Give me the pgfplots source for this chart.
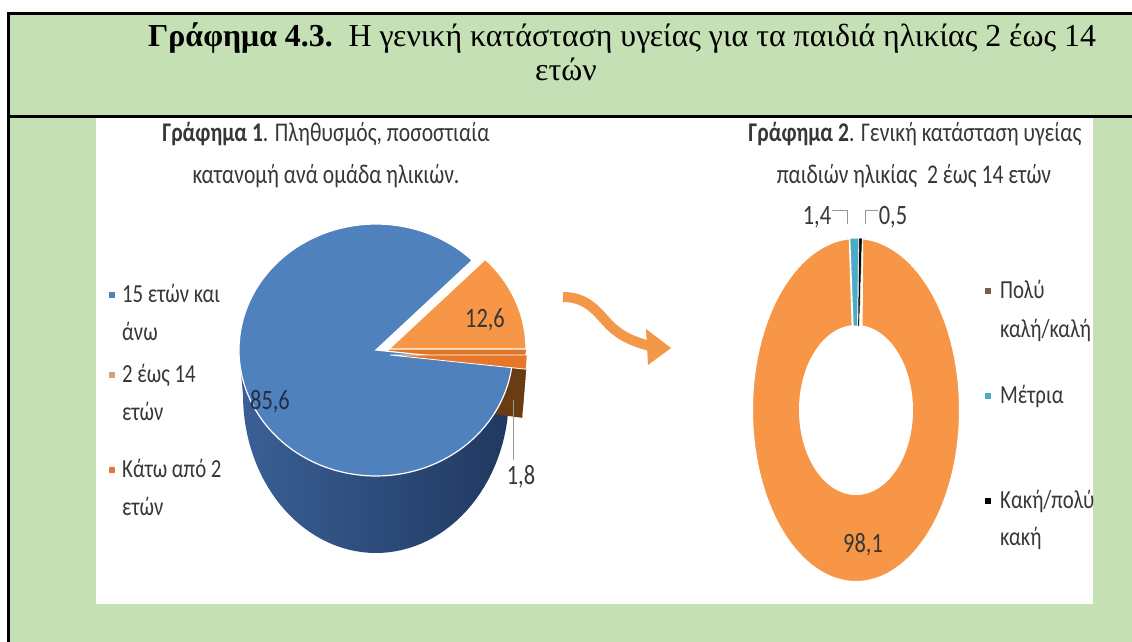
\documentclass[border=0pt]{standalone}
\usepackage{pgfplots}
\pgfplotsset{compat=1.18}
\usepackage{pgfplotstable}
\usepackage{fontspec}
\setmainfont{Liberation Serif}
\newfontfamily\titlefont[FakeStretch=0.995]{Liberation Serif}
\newfontfamily\chartfont[FakeStretch=0.8]{Carlito}

\definecolor{bggreen}{RGB}{197,224,180}
\definecolor{pieblue}{RGB}{79,129,189}
\definecolor{piebluesideA}{RGB}{58,96,150}
\definecolor{piebluesideB}{RGB}{32,56,96}
\definecolor{pieorange}{RGB}{247,150,70}
\definecolor{pieorangecut}{RGB}{222,118,40}
\definecolor{smalltop}{RGB}{232,118,40}
\definecolor{smallside}{RGB}{105,60,20}
\definecolor{dteal}{RGB}{75,172,198}
\definecolor{txt}{RGB}{55,55,55}
\definecolor{arrowor}{RGB}{242,152,72}
\definecolor{legtan}{RGB}{200,168,120}
\definecolor{legorange}{RGB}{226,120,45}
\definecolor{legbrown}{RGB}{120,92,76}
\definecolor{leader}{RGB}{150,150,150}

% data
\pgfplotstableread{
group value
older 85.6
kids 12.6
infants 1.8
}\popdata
\pgfplotstableread{
status value
good 98.1
fair 1.4
bad 0.5
}\healthdata

% 3D pie geometry (pixels): top ellipse, lower ellipse
\newcommand{\TRX}{137}\newcommand{\TRY}{126}
\newcommand{\BRX}{133}\newcommand{\BRY}{158}\newcommand{\BD}{45}

\newcommand{\topsector}[6]{%
\addplot[#1, domain=#2:#3, samples=#6, variable=\t]
 ({#4+\TRX*cos(\t)},{#5+\TRY*sin(\t)}) -- (axis cs:#4,#5) -- cycle;}

\newcommand{\sideband}[6]{%
\addplot[#1, domain=0:2, samples=#6, variable=\t]
 ({ifthenelse(\t<1.005, #4+\TRX*cos((#2)+((#3)-(#2))*\t), #4+\BRX*cos((#3)-((#3)-(#2))*(\t-1)))},
  {ifthenelse(\t<1.005, #5+\TRY*sin((#2)+((#3)-(#2))*\t), #5-\BD+\BRY*sin((#3)-((#3)-(#2))*(\t-1)))}) -- cycle;}

\newcommand{\ringsector}[4]{%
\addplot[#1, domain=0:2, samples=#4, variable=\t]
 ({ifthenelse(\t<1.005, 104*cos((#2)+((#3)-(#2))*\t), 56*cos((#3)-((#3)-(#2))*(\t-1)))},
  {ifthenelse(\t<1.005, 172*sin((#2)+((#3)-(#2))*\t), 84*sin((#3)-((#3)-(#2))*(\t-1)))}) -- cycle;}

\begin{document}
\begin{tikzpicture}
\pgfplotstablegetelem{0}{value}\of\popdata\let\pA\pgfplotsretval
\pgfplotstablegetelem{1}{value}\of\popdata\let\pB\pgfplotsretval
\pgfplotstablegetelem{2}{value}\of\popdata\let\pC\pgfplotsretval
\pgfplotstablegetelem{0}{value}\of\healthdata\let\hA\pgfplotsretval
\pgfplotstablegetelem{1}{value}\of\healthdata\let\hB\pgfplotsretval
\pgfplotstablegetelem{2}{value}\of\healthdata\let\hC\pgfplotsretval
\pgfmathsetmacro\aK{3.6*\pB}
\pgfmathsetmacro\aO{\aK+3.6*\pA}
\pgfmathsetmacro\aE{\aO+3.6*\pC}
% small slice cut face points (offset 14,-5)
\pgfmathsetmacro\cAx{14+\TRX*cos(\aO)}
\pgfmathsetmacro\cAy{-5+\TRY*sin(\aO)}
\pgfmathsetmacro\cBx{14+\BRX*cos(\aO)}
\pgfmathsetmacro\cBy{-5-\BD+\BRY*sin(\aO)}
% donut angles
\pgfmathsetmacro\dS{86.6}
\pgfmathsetmacro\dB{\dS+3.6*\hC}
\pgfmathsetmacro\dT{\dB+3.6*\hB}
\pgfmathsetmacro\dO{\dT+3.6*\hA}

\path[use as bounding box] (0pt,0pt) rectangle (1132pt,-642pt);
\clip (0pt,0pt) rectangle (1132pt,-642pt);
\begin{scope}[x=1pt,y=-1pt]
\fill[white] (0,0) rectangle (1132,642);
\fill[bggreen] (8,14) rectangle (1140,650);
\fill[white] (96,117.5) rectangle (1093,604);
\draw[black, line width=3pt] (6.5,14) -- (1140,14);
\draw[black, line width=3pt] (8,12.5) -- (8,650);
\draw[black, line width=3pt] (8,116) -- (1140,116);
\end{scope}

% ---- left 3D pie ----
\begin{axis}[anchor=origin, at={(376pt,-350pt)}, x=1pt, y=1pt,
  xmin=-160, xmax=175, ymin=-215, ymax=140, hide axis, clip=false]
% orange slice cut face (theta=0, offset 13,1)
\addplot[fill=pieorangecut, draw=none] coordinates {(13,1) (150,1) (146,-44) (13,-44)} -- cycle;
% blue side
\sideband{left color=piebluesideA, right color=piebluesideB, draw=none}{180}{\aO}{0}{0}{121}
% small slice cut face and side
\addplot[fill=smallside, draw=none] coordinates {(14,-5) (\cAx,\cAy) (\cBx,\cBy) (14,-50)} -- cycle;
\sideband{fill=smallside, draw=none}{\aO}{\aE}{14}{-5}{21}
% tops
\topsector{fill=pieblue, draw=white, line width=1.2pt}{\aK}{\aO}{0}{0}{120}
\topsector{fill=pieorange, draw=white, line width=1.2pt}{0}{\aK}{13}{1}{30}
\topsector{fill=smalltop, draw=white, line width=0.8pt}{\aO}{\aE}{14}{-5}{10}
\end{axis}

% ---- right donut ----
\begin{axis}[anchor=origin, at={(856pt,-410pt)}, x=1pt, y=1pt,
  xmin=-110, xmax=110, ymin=-180, ymax=180, hide axis, clip=false]
\ringsector{fill=pieorange, draw=white, line width=2pt}{\dT}{\dO}{301}
\ringsector{fill=dteal, draw=white, line width=1pt}{\dB}{\dT}{21}
\ringsector{fill=black, draw=white, line width=0.5pt}{\dS}{\dB}{11}
\end{axis}

\begin{scope}[x=1pt,y=-1pt]
% main title
\node[anchor=base west, inner sep=0] at (148,47) {\titlefont\fontsize{32}{36}\selectfont \textbf{Γράφημα 4.3.}\ \ Η γενική κατάσταση υγείας για τα παιδιά ηλικίας 2 έως 14};
\node[anchor=base, inner sep=0] at (566,81) {\titlefont\fontsize{32}{36}\selectfont ετών};
% chart titles
\begin{scope}[every node/.style={inner sep=0, text=txt, font=\chartfont\fontsize{27}{30}\selectfont}]
\node[anchor=base] at (326,141) {\textbf{Γράφημα 1}. Πληθυσμός, ποσοστιαία};
\node[anchor=base] at (326,183) {κατανομή ανά ομάδα ηλικιών.};
\node[anchor=base] at (915,141) {\textbf{Γράφημα 2}. Γενική κατάσταση υγείας};
\node[anchor=base] at (914,183) {παιδιών ηλικίας\ \ 2 έως 14 ετών};
\end{scope}
\begin{scope}[every node/.style={inner sep=0, text=txt, font=\chartfont\fontsize{26}{30}\selectfont}]
% left legend
\fill[pieblue] (109,292) rectangle (115,298);
\fill[legtan] (109,372) rectangle (115,378);
\fill[legorange] (109,467) rectangle (115,473);
\node[anchor=base west] at (122,302) {15 ετών και};
\node[anchor=base west] at (122,340) {άνω};
\node[anchor=base west] at (122,382) {2 έως 14};
\node[anchor=base west] at (122,420) {ετών};
\node[anchor=base west] at (122,477) {Κάτω από 2};
\node[anchor=base west] at (122,515) {ετών};
% right legend
\fill[legbrown] (985,288) rectangle (991,294);
\fill[dteal] (985,393) rectangle (991,399);
\fill[black] (985,498) rectangle (991,504);
\node[anchor=base west] at (1000,298) {Πολύ};
\node[anchor=base west] at (1000,337) {καλή/καλή};
\node[anchor=base west] at (1000,403) {Μέτρια};
\node[anchor=base west] at (1000,508) {Κακή/πολύ};
\node[anchor=base west] at (1000,545) {κακή};
\end{scope}
% data labels
\begin{scope}[every node/.style={inner sep=0, text=txt, font=\chartfont\fontsize{28}{30}\selectfont}]
\node at (485,320) {12,6};
\node[text={rgb,255:red,35;green,45;blue,70}] at (270,402) {85,6};
\node at (521,477) {1,8};
\node at (863,545) {98,1};
\node at (817,217) {1,4};
\node at (893,217) {0,5};
\end{scope}
\draw[leader, line width=1pt] (513,400) -- (513,460);
\draw[leader, line width=1pt] (832,210) -- (847,210) -- (847,224);
\draw[leader, line width=1pt] (878,210) -- (865,210) -- (865,224);
% arrow
\draw[arrowor, line width=10pt] (563,297) .. controls (592,297) and (600,318) .. (615,330) .. controls (625,338) and (635,342) .. (650,346);
\fill[arrowor] (646,329) -- (671,348) -- (648,365) -- cycle;
\end{scope}
\end{tikzpicture}
\end{document}
